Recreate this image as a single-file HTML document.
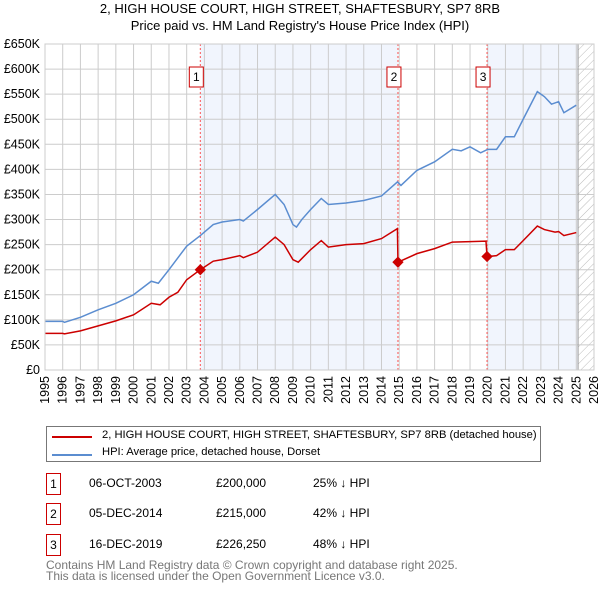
<!DOCTYPE html>
<html><head><meta charset="utf-8"><style>
body{margin:0;background:#fff;font-family:"Liberation Sans","DejaVu Sans",sans-serif;}
#wrap{position:relative;width:600px;height:590px;overflow:hidden}
.t{position:absolute;font-size:12px;color:#000;white-space:nowrap}
.box{position:absolute;width:13px;height:20px;border:1px solid #c00;font-size:12px;text-align:center;line-height:20px}
</style></head><body><div id="wrap">
<svg id="svg" width="600" height="420" style="position:absolute;left:0;top:0">
<defs><pattern id="hatch" width="6" height="6" patternUnits="userSpaceOnUse" patternTransform="rotate(45)"><line x1="0" y1="0" x2="0" y2="6" stroke="#bbb" stroke-width="1"/></pattern></defs>
<text x="300" y="13" text-anchor="middle" font-size="13">2, HIGH HOUSE COURT, HIGH STREET, SHAFTESBURY, SP7 8RB</text>
<text x="300" y="30" text-anchor="middle" font-size="13">Price paid vs. HM Land Registry's House Price Index (HPI)</text>
<g id="g"></g>
</svg>
<div style="position:absolute;left:46px;top:426px;width:493px;height:34px;border:1px solid #777">
<div style="position:absolute;left:5px;top:9px;width:40px;height:2px;background:#c00"></div>
<div class="t" style="left:55px;top:2px;font-size:11.2px">2, HIGH HOUSE COURT, HIGH STREET, SHAFTESBURY, SP7 8RB (detached house)</div>
<div style="position:absolute;left:5px;top:27px;width:40px;height:2px;background:#5b8dd0"></div>
<div class="t" style="left:55px;top:19px;font-size:11.2px">HPI: Average price, detached house, Dorset</div>
</div>
<div>
<div class="box" style="left:46px;top:473px">1</div>
<div class="t" style="left:89px;top:476px">06-OCT-2003</div><div class="t" style="left:216px;top:476px">£200,000</div><div class="t" style="left:313px;top:476px">25% ↓ HPI</div>
<div class="box" style="left:46px;top:503px">2</div>
<div class="t" style="left:89px;top:506px">05-DEC-2014</div><div class="t" style="left:216px;top:506px">£215,000</div><div class="t" style="left:313px;top:506px">42% ↓ HPI</div>
<div class="box" style="left:46px;top:534px">3</div>
<div class="t" style="left:89px;top:537px">16-DEC-2019</div><div class="t" style="left:216px;top:537px">£226,250</div><div class="t" style="left:313px;top:537px">48% ↓ HPI</div>
</div>
<div class="t" style="left:46px;top:560px;color:#777;line-height:11px">Contains HM Land Registry data © Crown copyright and database right 2025.<br>This data is licensed under the Open Government Licence v3.0.</div>
</div>
<script>
const hpiYears=[1995,1996,1996.1,1997,1998,1999,2000,2001,2001.4,2002,2003,2003.77,2004.5,2005,2006,2006.2,2007,2008,2008.5,2009,2009.2,2009.5,2010,2010.6,2011,2012,2013,2014,2014.9,2015.1,2016,2017,2018,2018.5,2019,2019.6,2020,2020.5,2021,2021.5,2022,2022.8,2023.2,2023.6,2024,2024.3,2025];
const hpiValues=[97,97,95,105,120,133,150,177,173,200,247,268,290,295,300,297,320,350,330,290,285,300,320,342,330,333,338,347,375,368,398,415,440,437,445,433,440,440,465,465,500,555,545,530,535,513,528];
const ppYears=[1995,1996,1996.1,1997,1998,1999,2000,2001,2001.5,2002,2002.5,2003,2003.77,2004.5,2005,2006,2006.2,2007,2008,2008.5,2009,2009.3,2010,2010.6,2011,2012,2013,2014,2014.9,2014.93,2016,2017,2018,2019,2019.9,2019.96,2020.5,2021,2021.5,2022,2022.8,2023.2,2023.8,2024,2024.3,2025];
const ppValues=[73,73,72,78,88,98,110,133,130,145,155,180,200,217,220,228,224,235,265,250,220,215,240,258,245,250,252,262,282,215,232,242,255,256,257,226,228,240,240,258,287,280,275,276,268,274];
const saleYears=[2003.77,2014.93,2019.96];
const saleValues=[200000,215000,226250];
const saleLabels=["1","2","3"];
const yTicks=[0,50,100,150,200,250,300,350,400,450,500,550,600,650];
const xTicks=[1995,1996,1997,1998,1999,2000,2001,2002,2003,2004,2005,2006,2007,2008,2009,2010,2011,2012,2013,2014,2015,2016,2017,2018,2019,2020,2021,2022,2023,2024,2025,2026];
const X0=45,X1=594,Y0=370,Y1=44;
const xs=y=>X0+(y-1995)*(X1-X0)/31;
const ys=v=>Y0-v*(Y0-Y1)/650;
const NS="http://www.w3.org/2000/svg",g=document.getElementById('g');
function mk(t,a){const e=document.createElementNS(NS,t);for(const k in a)e.setAttribute(k,a[k]);g.appendChild(e);return e;}
let e;
e=mk('rect',{x:xs(saleYears[0]),y:Y1,width:xs(saleYears[1])-xs(saleYears[0]),height:Y0-Y1,fill:'#eef3fc',opacity:0.8});


e=mk('rect',{x:xs(saleYears[2]),y:Y1,width:xs(2025.1)-xs(saleYears[2]),height:Y0-Y1,fill:'#eef3fc',opacity:0.8});


e=mk('rect',{x:xs(2025.1),y:Y1,width:X1-xs(2025.1),height:Y0-Y1,fill:'url(#hatch)'});


yTicks.forEach(v=>{
 e=mk('line',{x1:X0,x2:X1,y1:ys(v),y2:ys(v),stroke:'#ccc'});
 
 
 e=mk('text',{x:40,y:ys(v)+4,'text-anchor':'end','font-size':12.5});
 e.textContent=v==0?'£0':'£'+v+'K';
 
 
});
xTicks.forEach(y=>{
 e=mk('line',{x1:xs(y),x2:xs(y),y1:Y1,y2:Y0,stroke:'#ccc'});
 
 
 e=mk('text',{x:0,y:0,'text-anchor':'end','font-size':12.5,transform:`translate(${xs(y)+4},${Y0+6}) rotate(-90)`});
 e.textContent=y;
 
 
});
e=mk('line',{x1:xs(2025.1),x2:xs(2025.1),y1:Y1,y2:Y0,stroke:'#999'});


saleYears.forEach((y,i)=>{
 e=mk('line',{x1:xs(y),x2:xs(y),y1:Y1,y2:Y0,stroke:'#f55','stroke-dasharray':'2,2'});
 
 
});
e=mk('polyline',{points:hpiYears.map((y,i)=>xs(y)+','+ys(hpiValues[i])).join(' '),fill:'none',stroke:'#5b8dd0','stroke-width':1.5});


e=mk('polyline',{points:ppYears.map((y,i)=>xs(y)+','+ys(ppValues[i])).join(' '),fill:'none',stroke:'#c00','stroke-width':1.5});


saleYears.forEach((y,i)=>{
 const cx=xs(y),cy=ys(saleValues[i]/1000);
 e=mk('rect',{x:cx-4,y:cy-4,width:8,height:8,fill:'#c00',transform:`rotate(45 ${cx} ${cy})`});
 
 
 e=mk('rect',{x:cx-11,y:67,width:14,height:20,fill:'#fff',stroke:'#c00'});
 
 
 e=mk('text',{x:cx-4,y:81,'text-anchor':'middle','font-size':12});
 e.textContent=saleLabels[i];
 
 
});
e=mk('rect',{x:X0,y:Y1,width:X1-X0,height:Y0-Y1,fill:'none',stroke:'#ccc'});


</script></body></html>
